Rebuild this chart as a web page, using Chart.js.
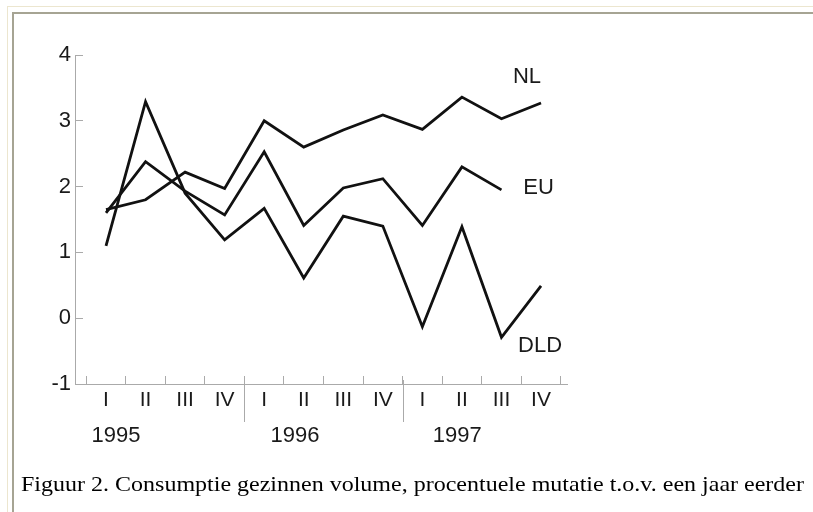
<!DOCTYPE html>
<html>
<head>
<meta charset="utf-8">
<script src="https://cdn.jsdelivr.net/npm/chart.js@4/dist/chart.umd.min.js"></script>
<style>
html,body{margin:0;padding:0;background:#fff;width:813px;height:512px;overflow:hidden;position:relative}
#outer{position:absolute;left:7px;top:6px;width:900px;height:600px;border-top:1px solid #ece6cf;border-left:1px solid #ece6cf}
#inner{position:absolute;left:12px;top:12px;width:900px;height:600px;border-top:2px solid #a6a493;border-left:2px solid #a6a493}
#wrap{position:absolute;left:0;top:0;width:813px;height:512px}
#caption{position:absolute;left:21px;top:473px;font-family:"Liberation Serif","Times New Roman",serif;font-size:22px;line-height:22px;color:#000;white-space:nowrap;transform-origin:0 0}
</style>
</head>
<body>
<div id="outer"></div>
<div id="inner"></div>
<div id="wrap"><canvas id="c" width="813" height="512"></canvas></div>
<div id="caption">Figuur 2. Consumptie gezinnen volume, procentuele mutatie t.o.v. een jaar eerder</div>
<script>
// ---- data ----
const quarters = ['I','II','III','IV','I','II','III','IV','I','II','III','IV'];
const years = ['1995','1996','1997'];
const seriesNames = ['NL','EU','DLD'];
const nlValues  = [1.65, 1.80, 2.22, 1.97, 3.00, 2.60, 2.86, 3.09, 2.87, 3.36, 3.03, 3.27];
const euValues  = [1.60, 2.38, 1.93, 1.57, 2.53, 1.41, 1.98, 2.12, 1.41, 2.30, 1.95, null];
const dldValues = [1.10, 3.29, 1.90, 1.19, 1.67, 0.61, 1.55, 1.40, -0.13, 1.39, -0.29, 0.49];
const yTickValues = [-1, 0, 1, 2, 3, 4];

const toPoints = arr => arr.map((v, i) => ({x: i, y: v}));
const FONT = '"Liberation Sans", Arial, sans-serif';
const TXT = '#1a1a1a';
const AXIS = '#aaaaaa';

const decor = {
  id: 'decor',
  afterDraw(chart, args, opts) {
    const {ctx, chartArea} = chart;
    const xs = chart.scales.x, ys = chart.scales.y;
    ctx.save();
    // year separators
    ctx.strokeStyle = AXIS; ctx.lineWidth = 1;
    opts.separators.forEach(v => {
      const px = Math.round(xs.getPixelForValue(v)) + 0.5;
      ctx.beginPath();
      ctx.moveTo(px, chartArea.bottom - 4);
      ctx.lineTo(px, chartArea.bottom + 38);
      ctx.stroke();
    });
    ctx.fillStyle = TXT;
    ctx.font = '22px ' + FONT;
    ctx.textAlign = 'center'; ctx.textBaseline = 'alphabetic';
    years.forEach((y, i) => {
      ctx.fillText(y, xs.getPixelForValue(opts.yearAt[i]), chartArea.bottom + 58);
    });
    ctx.textAlign = 'left';
    seriesNames.forEach((n, i) => {
      const a = opts.nameAt[i];
      ctx.fillText(n, xs.getPixelForValue(a[0]), ys.getPixelForValue(a[1]));
    });
    ctx.restore();
  }
};

const lineStyle = {borderColor: '#111', borderWidth: 2.8, pointRadius: 0, tension: 0, fill: false, borderJoinStyle: 'miter', spanGaps: false};

new Chart(document.getElementById('c'), {
  type: 'line',
  data: {
    datasets: [
      Object.assign({label: seriesNames[0], data: toPoints(nlValues)}, lineStyle),
      Object.assign({label: seriesNames[1], data: toPoints(euValues)}, lineStyle),
      Object.assign({label: seriesNames[2], data: toPoints(dldValues)}, lineStyle)
    ]
  },
  options: {
    responsive: false,
    animation: false,
    devicePixelRatio: 1,
    layout: {padding: {left: 0, top: 55, right: 246, bottom: 68}},
    plugins: {
      legend: {display: false},
      tooltip: {enabled: false},
      decor: {
        separators: [3.5, 7.5],
        yearAt: [0.25, 4.78, 8.88],
        nameAt: [[10.29, 3.575], [10.55, 1.89], [10.42, -0.51]]
      }
    },
    scales: {
      x: {
        type: 'linear',
        min: -0.784, max: 11.657,
        afterBuildTicks: s => { s.ticks = quarters.map((q, i) => ({value: i})); },
        afterFit: s => { s.height = 60; },
        grid: {offset: true, drawOnChartArea: false, drawTicks: true, tickLength: -8, tickColor: AXIS, tickWidth: 1},
        border: {display: true, color: AXIS, width: 1},
        ticks: {
          autoSkip: false, maxRotation: 0, padding: 12,
          color: TXT, font: {family: FONT, size: 21},
          callback: v => quarters[v]
        }
      },
      y: {
        type: 'linear',
        min: -1, max: 4,
        afterBuildTicks: s => { s.ticks = yTickValues.map(v => ({value: v})); },
        afterFit: s => { s.width = 75; },
        grid: {drawOnChartArea: false, drawTicks: true, tickLength: -8, tickColor: AXIS, tickWidth: 1},
        border: {display: true, color: AXIS, width: 1},
        ticks: {padding: 12, color: TXT, font: {family: FONT, size: 22}, callback: v => String(v)}
      }
    }
  },
  plugins: [decor]
});

// fit caption width to reference
const cap = document.getElementById('caption');
const w = cap.getBoundingClientRect().width;
cap.style.transform = 'scaleX(' + (783 / w) + ')';
</script>
</body>
</html>
